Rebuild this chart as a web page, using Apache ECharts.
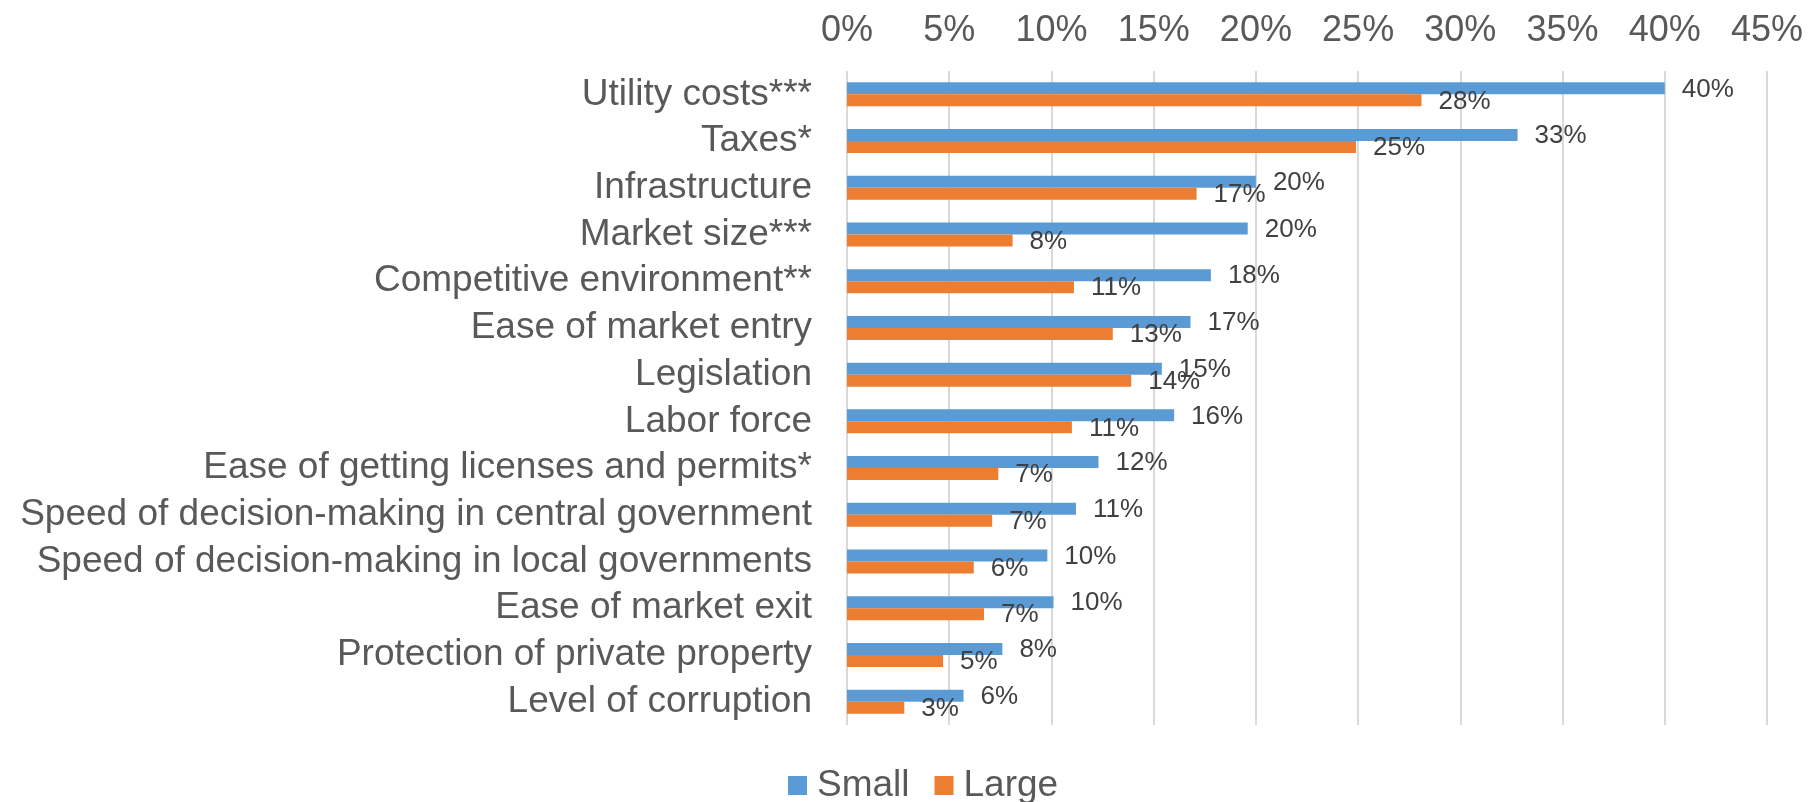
<!DOCTYPE html>
<html>
<head>
<meta charset="utf-8">
<script src="https://cdn.jsdelivr.net/npm/echarts@6/dist/echarts.min.js"></script>
<style>
  html, body { margin: 0; padding: 0; background: #ffffff; }
  #chart { width: 1811px; height: 802px; }
</style>
</head>
<body>
<div id="chart"></div>
<script>
// Factors, listed top to bottom
const categories = [
  'Utility costs***',
  'Taxes*',
  'Infrastructure',
  'Market size***',
  'Competitive environment**',
  'Ease of market entry',
  'Legislation',
  'Labor force',
  'Ease of getting licenses and permits*',
  'Speed of decision-making in central government',
  'Speed of decision-making in local governments',
  'Ease of market exit',
  'Protection of private property',
  'Level of corruption'
];

// Share of firms (%) by firm size
const smallValues = [40.0, 32.8, 20.0, 19.6, 17.8, 16.8, 15.4, 16.0, 12.3, 11.2, 9.8, 10.1, 7.6, 5.7];
const largeValues = [28.1, 24.9, 17.1, 8.1, 11.1, 13.0, 13.9, 11.0, 7.4, 7.1, 6.2, 6.7, 4.7, 2.8];

const seriesNames = ['Small', 'Large'];
const axisMax = 45;
const axisStep = 5;

const FONT = '"Liberation Sans", Arial, sans-serif';
const pct = v => Math.round(v) + '%';

const chart = echarts.init(document.getElementById('chart'), null, { renderer: 'canvas' });

const barLabel = {
  show: true,
  position: 'right',
  distance: 17,
  offset: [0, 1],
  color: '#404040',
  fontFamily: FONT,
  fontSize: 26,
  formatter: p => pct(p.value)
};

chart.setOption({
  animation: false,
  backgroundColor: '#ffffff',
  grid: { left: 847, right: 44, top: 71, bottom: 77, containLabel: false },
  xAxis: {
    type: 'value',
    position: 'top',
    min: 0,
    max: axisMax,
    interval: axisStep,
    axisLine: { show: false },
    axisTick: { show: false },
    axisLabel: {
      color: '#595959',
      fontFamily: FONT,
      fontSize: 36,
      margin: 22,
      formatter: '{value}%'
    },
    splitLine: { show: true, lineStyle: { color: '#d9d9d9', width: 2 } }
  },
  yAxis: {
    type: 'category',
    inverse: true,
    data: categories,
    axisLine: { show: false },
    axisTick: { show: false },
    axisLabel: {
      interval: 0,
      color: '#595959',
      fontFamily: FONT,
      fontSize: 37,
      margin: 35
    }
  },
  legend: {
    data: seriesNames,
    left: 783,
    top: 762,
    icon: 'rect',
    itemWidth: 19,
    itemHeight: 19,
    itemGap: 25,
    textStyle: {
      color: '#595959',
      fontFamily: FONT,
      fontSize: 37,
      padding: [0, 0, 0, 5]
    }
  },
  series: [
    {
      name: seriesNames[0],
      type: 'bar',
      data: smallValues,
      barGap: '0%',
      barCategoryGap: '48.6%',
      itemStyle: { color: '#5b9bd5' },
      label: barLabel
    },
    {
      name: seriesNames[1],
      type: 'bar',
      data: largeValues,
      barGap: '0%',
      barCategoryGap: '48.6%',
      itemStyle: { color: '#ed7d31' },
      label: barLabel
    }
  ]
});
</script>
</body>
</html>
